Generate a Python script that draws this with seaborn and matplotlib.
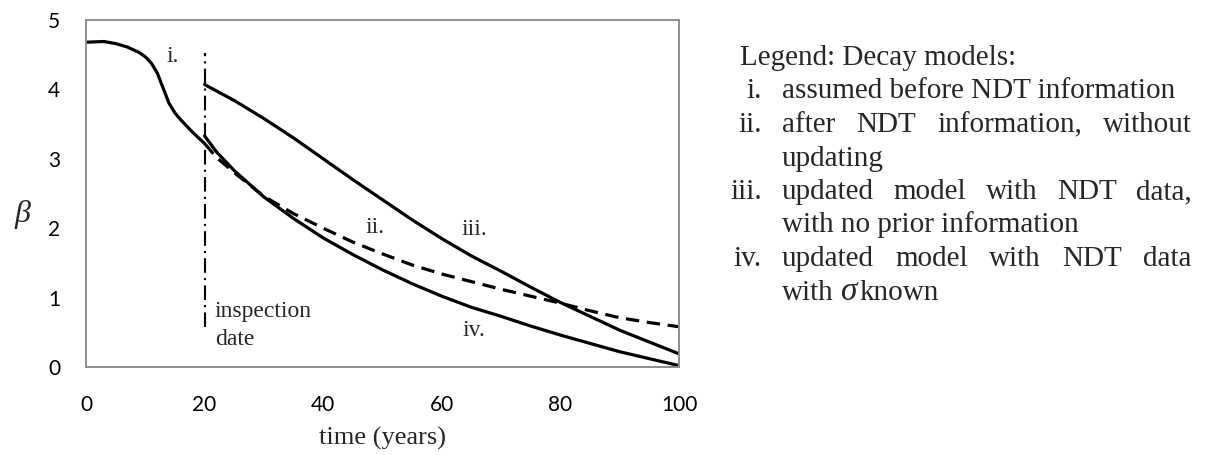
import numpy as np
import pandas as pd
import matplotlib
matplotlib.use("Agg")
import matplotlib.pyplot as plt
import seaborn as sns

# ---------------- data ----------------
years_i = [0, 3, 5, 7, 9, 10, 11, 12, 13, 14, 15, 16, 17, 18, 19, 20]
beta_i = [4.68, 4.69, 4.66, 4.61, 4.53, 4.47, 4.38, 4.24, 4.02, 3.80, 3.66, 3.56, 3.47, 3.38, 3.30, 3.22]

years_ii = [20, 22, 25, 30, 35, 40, 45, 50, 55, 60, 65, 70, 75, 80, 85, 90, 95, 100]
beta_ii = [3.22, 3.02, 2.80, 2.46, 2.21, 2.00, 1.80, 1.63, 1.47, 1.34, 1.23, 1.12, 1.02, 0.92, 0.81, 0.71, 0.64, 0.58]

years_iii = [20, 25, 30, 35, 40, 45, 50, 55, 60, 65, 70, 75, 80, 85, 90, 95, 100]
beta_iii = [4.07, 3.84, 3.58, 3.30, 3.00, 2.70, 2.41, 2.12, 1.85, 1.60, 1.38, 1.15, 0.93, 0.73, 0.53, 0.36, 0.19]

years_iv = [20, 22, 25, 30, 35, 40, 45, 50, 55, 60, 65, 70, 75, 80, 85, 90, 95, 100]
beta_iv = [3.33, 3.10, 2.83, 2.45, 2.14, 1.86, 1.62, 1.40, 1.20, 1.02, 0.86, 0.73, 0.59, 0.46, 0.34, 0.22, 0.12, 0.02]

inspection_year = 20
inspection_span = [0.57, 4.53]

curve_labels = ["i.", "ii.", "iii.", "iv."]
curve_label_pos = [(14.6, 4.40), (48.8, 1.93), (65.5, 1.90), (65.4, 0.44)]

x_ticks = [0, 20, 40, 60, 80, 100]
y_ticks = [0, 1, 2, 3, 4, 5]

legend_title = "Legend: Decay models:"
legend_lines = [
    ("i.", "assumed before NDT information", False),
    ("ii.", "after NDT information, without", True),
    (None, "updating", False),
    ("iii.", "updated model with NDT data,", True),
    (None, "with no prior information", False),
    ("iv.", "updated model with NDT data", True),
]

# ---------------- figure ----------------
sns.set_style("white")
plt.rcParams["font.family"] = ["Liberation Serif", "DejaVu Serif"]

W, H = 1205, 455
fig = plt.figure(figsize=(W / 100, H / 100), dpi=100)
L, R, T, B = 86, 679, 20, 367
ax = fig.add_axes([L / W, 1 - B / H, (R - L) / W, (B - T) / H])

lw = 2.3
df_i = pd.DataFrame({"t": years_i, "b": beta_i})
df_ii = pd.DataFrame({"t": years_ii, "b": beta_ii})
df_iii = pd.DataFrame({"t": years_iii, "b": beta_iii})
df_iv = pd.DataFrame({"t": years_iv, "b": beta_iv})

sns.lineplot(data=df_i, x="t", y="b", ax=ax, color="black", linewidth=lw, sort=False)
sns.lineplot(data=df_iii, x="t", y="b", ax=ax, color="black", linewidth=lw, sort=False)
sns.lineplot(data=df_iv, x="t", y="b", ax=ax, color="black", linewidth=lw, sort=False)
sns.lineplot(data=df_ii, x="t", y="b", ax=ax, color="black", linewidth=lw, sort=False)
ax.lines[-1].set_dashes([4.2, 2.4])

ax.vlines(inspection_year, inspection_span[0], inspection_span[1], colors="black",
          linewidth=1.5, linestyles=[(0, (7, 2.5, 1, 2.5))])

for lab, (xx, yy) in zip(curve_labels, curve_label_pos):
    ax.text(xx, yy, lab, ha="center", va="baseline", fontsize=17)
ax.text(21.7, 0.72, "inspection", ha="left", va="baseline", fontsize=17)
ax.text(21.7, 0.32, "date", ha="left", va="baseline", fontsize=17)

ax.set_xlim(0, 100)
ax.set_ylim(0, 5)
ax.set_xticks(x_ticks)
ax.set_yticks(y_ticks)
spine_col = "#8c8c8c"
for s in ax.spines.values():
    s.set_color(spine_col)
    s.set_linewidth(1.4)
ax.tick_params(axis="both", direction="out", length=6.5, width=1.3, color=spine_col,
               labelsize=15, labelcolor="black")
ax.tick_params(axis="x", pad=14)
ax.tick_params(axis="y", pad=12)
for lab in ax.get_xticklabels() + ax.get_yticklabels():
    lab.set_family(["Lato", "DejaVu Sans"])

ax.set_xlabel("time (years)", fontsize=19)
ax.xaxis.label.set_va("baseline")
ax.xaxis.set_label_coords(0.5, (B - 445) / (B - T))
ax.set_ylabel("β", fontsize=23, fontstyle="italic", rotation=0, ha="center", va="center")
ax.yaxis.set_label_coords((23 - L) / (R - L), (B - 214) / (B - T))

# ---------------- legend text block ----------------
fs = 21
x_num_right, x_text, x_right = 762, 782, 1192
base0, step = 65, 33.5

def fpos(x, y):
    return x / W, 1 - y / H

fig.text(*fpos(740, base0), legend_title, fontsize=fs, ha="left", va="baseline")
fig.canvas.draw()
renderer = fig.canvas.get_renderer()

def justified(text, y):
    words = text.split()
    objs = [fig.text(0, 0, w, fontsize=fs, ha="left", va="baseline") for w in words]
    widths = [o.get_window_extent(renderer).width for o in objs]
    gap = (x_right - x_text - sum(widths)) / (len(words) - 1)
    x = x_text
    for o, w in zip(objs, widths):
        o.set_position(fpos(x, y))
        x += w + gap

for k, (num, text, just) in enumerate(legend_lines):
    y = base0 + step * (k + 1)
    if num:
        fig.text(*fpos(x_num_right, y), num, fontsize=fs, ha="right", va="baseline")
    if just:
        justified(text, y)
    else:
        fig.text(*fpos(x_text, y), text, fontsize=fs, ha="left", va="baseline")

y_last = base0 + step * 7
t1 = fig.text(*fpos(x_text, y_last), "with", fontsize=fs, ha="left", va="baseline")
w1 = t1.get_window_extent(renderer).width
t2 = fig.text(*fpos(x_text + w1 + 7, y_last), "σ", fontsize=fs + 3, fontstyle="italic",
              ha="left", va="baseline")
w2 = t2.get_window_extent(renderer).width
fig.text(*fpos(x_text + w1 + 7 + w2 + 2, y_last), "known", fontsize=fs, ha="left", va="baseline")

fig.savefig("out.png", dpi=100)
